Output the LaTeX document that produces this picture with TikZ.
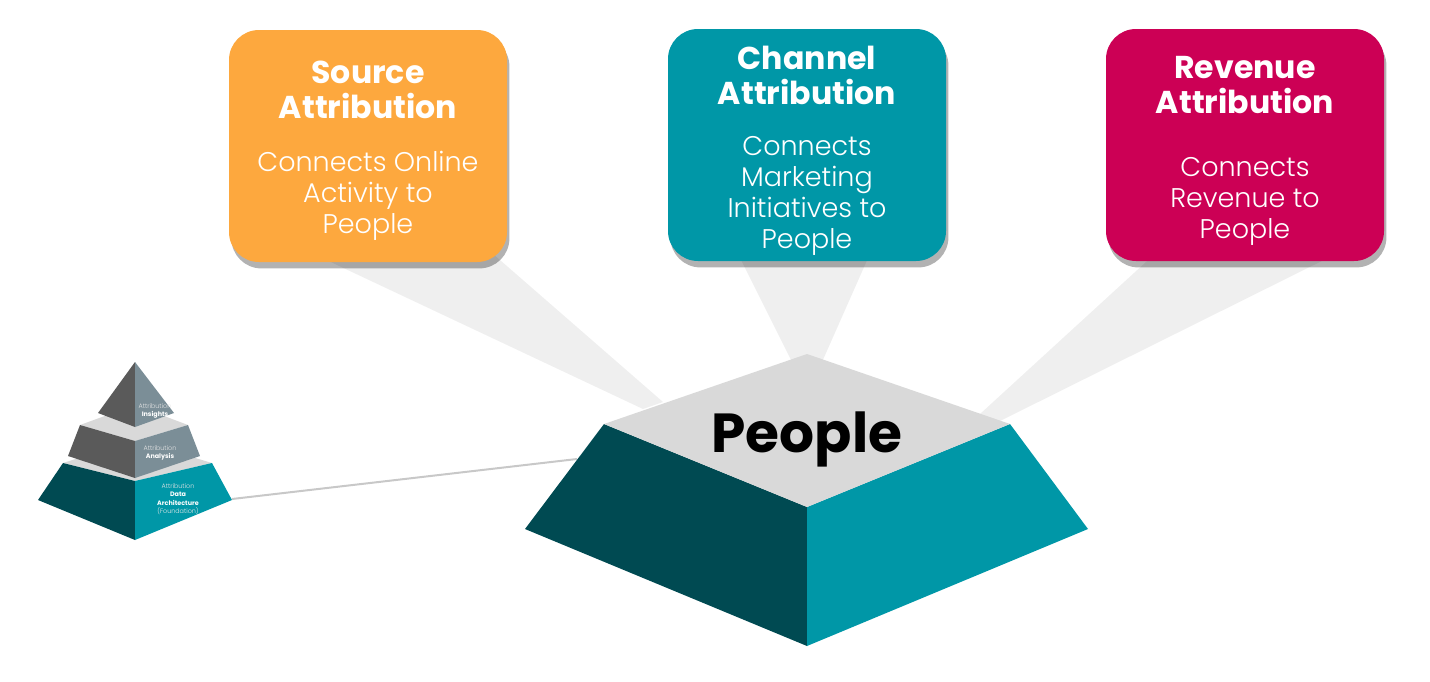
\documentclass[tikz,border=0pt]{standalone}
\usepackage{fontspec}
\setmainfont{Poppins}
\newfontfamily\lightfont{Poppins}[UprightFont=* Light]
\usetikzlibrary{shadows}
\definecolor{orangeS}{HTML}{FDA83E}
\definecolor{tealC}{HTML}{0097A7}
\definecolor{crimR}{HTML}{CC0055}
\definecolor{tealD}{HTML}{004A52}
\definecolor{topG}{HTML}{D9D9D9}
\definecolor{beamG}{HTML}{EFEFEF}
\definecolor{greyL}{HTML}{5A5A5A}
\definecolor{greyR}{HTML}{7B8E97}
\definecolor{linkG}{HTML}{C8C8C8}
\begin{document}
\begin{tikzpicture}[x=0.5pt,y=-0.5pt,
 card/.style={rounded corners=15pt, minimum width=139pt, minimum height=116pt, inner sep=0pt,
   drop shadow={shadow xshift=1.2pt, shadow yshift=-3.2pt, opacity=0.3, fill=black}},
 cardtitle/.style={text=white, align=center, inner sep=0pt, font=\fontsize{15.8}{17.5}\selectfont\bfseries},
 cardbody/.style={text=white, align=center, inner sep=0pt, font=\fontsize{13.5}{15.5}\selectfont\lightfont},
 beam/.style={fill=beamG},
 tinytext/.style={align=center, inner sep=0pt, font=\fontsize{3.2}{4.2}\selectfont},
 link/.style={draw=linkG, line width=1pt}]
\useasboundingbox (0,0) rectangle (1430,681);
% beams
\fill[beam] (284,240) -- (477,240) -- (663,402) -- (643,409) -- cycle;
\fill[beam] (731,240) -- (876,240) -- (822,362) -- (792,362) -- cycle;
\fill[beam] (1170,240) -- (1364,240) -- (998,422) -- (980,414) -- cycle;
% cards
\node[card, fill=orangeS] (source) at (368,146) {};
\node[card, fill=tealC] (channel) at (807,145) {};
\node[card, fill=crimR] (revenue) at (1245,145) {};
\node[cardtitle] (sourceT) at (368,90) {Source\\Attribution};
\node[cardbody] (sourceB) at (368,196) {Connects Online\\Activity to\\People};
\node[cardtitle] (channelT) at (807,75) {Channel\\Attribution};
\node[cardbody] (channelB) at (807,196) {Connects\\Marketing\\Initiatives to\\People};
\node[cardtitle] (revenueT) at (1245,85) {Revenue\\Attribution};
\node[cardbody] (revenueB) at (1245,201) {Connects\\Revenue to\\People};
% connector
\coordinate (pyrtip) at (232,499);
\coordinate (peopleedge) at (577,459);
\draw[link] (pyrtip) -- (peopleedge);
% People block
\coordinate (pA) at (807,354);
\coordinate (pTL) at (604,424);
\coordinate (pTR) at (1010,424);
\coordinate (pF) at (807,507);
\coordinate (pOL) at (525,529);
\coordinate (pOR) at (1088,529);
\coordinate (pB) at (807,646);
\fill[tealD] (pOL) -- (pTL) -- (pF) -- (pB) -- cycle;
\fill[tealC] (pF) -- (pTR) -- (pOR) -- (pB) -- cycle;
\fill[topG] (pA) -- (pTR) -- (pF) -- (pTL) -- cycle;
\node[anchor=base, inner sep=0pt, font=\fontsize{27.5}{30}\selectfont\bfseries] (people) at (807,452) {People};
% small pyramid
\coordinate (tA) at (135,362);
\coordinate (tL) at (98,413);
\coordinate (tR) at (174,413);
\coordinate (tF) at (135,427);
\coordinate (mL) at (80,425);
\coordinate (mF) at (135,441);
\coordinate (mR) at (188,425);
\coordinate (mB) at (135,405);
\coordinate (mBL) at (68,456);
\coordinate (mBF) at (135,478);
\coordinate (mBR) at (200,456);
\coordinate (bL) at (63,463);
\coordinate (bF) at (135,481);
\coordinate (bR) at (212,463);
\coordinate (bB) at (135,440);
\coordinate (oL) at (38,500);
\coordinate (oB) at (135,540);
\coordinate (oR) at (232,500);
\fill[topG] (bL) -- (bB) -- (bR) -- (bF) -- cycle;
\fill[tealD] (oL) -- (bL) -- (bF) -- (oB) -- cycle;
\fill[tealC] (bF) -- (bR) -- (oR) -- (oB) -- cycle;
\fill[topG] (mL) -- (mB) -- (mR) -- (mF) -- cycle;
\fill[greyL] (mBL) -- (mL) -- (mF) -- (mBF) -- cycle;
\fill[greyR] (mF) -- (mR) -- (mBR) -- (mBF) -- cycle;
\fill[greyL] (tL) -- (tA) -- (tF) -- cycle;
\fill[greyR] (tA) -- (tR) -- (tF) -- cycle;
\node[tinytext] (insights) at (155,411) {{\lightfont\color{white!80!gray}Attribution}\\\color{white}\bfseries Insights};
\node[tinytext] (analysis) at (160,453) {{\lightfont\color{white!80!gray}Attribution}\\\color{white}\bfseries Analysis};
\node[tinytext] (foundation) at (178,499) {{\lightfont\color{white!80!gray}Attribution}\\\color{white}\bfseries Data\\\color{white}\bfseries Architecture\\{\lightfont\color{white!85!gray}(Foundation)}};
\end{tikzpicture}
\end{document}
